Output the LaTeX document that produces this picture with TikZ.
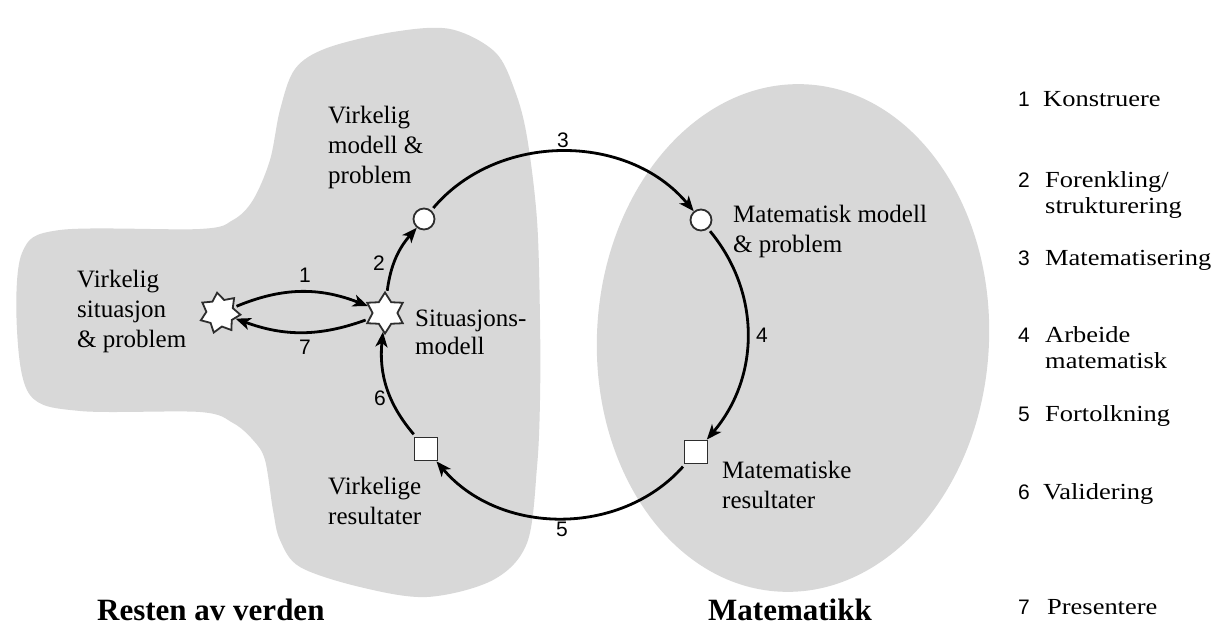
\documentclass[tikz,border=0pt]{standalone}
\usepackage{fontspec}
\setmainfont{Liberation Serif}
\newfontfamily\numfont{Liberation Sans}
\newfontfamily\legfont{Liberation Serif}[FakeStretch=1.15]
\usetikzlibrary{shapes.geometric,arrows.meta}

\definecolor{regiongray}{RGB}{216,216,216}
\definecolor{inkgray}{RGB}{45,45,45}

\begin{document}
\begin{tikzpicture}[x=1pt,y=1pt,
  % multi-line labels are anchored at the baseline of their last line
  lbl/.style={anchor=base west, inner sep=0pt, align=left, font=\fontsize{25}{30}\selectfont},
  title/.style={anchor=base west, inner sep=0pt, font=\fontsize{31}{36}\selectfont\bfseries},
  stepno/.style={inner sep=0pt, font=\numfont\fontsize{21}{25}\selectfont},
  legno/.style={anchor=base west, inner sep=0pt, font=\numfont\fontsize{21}{25}\selectfont},
  legtext/.style={anchor=base west, inner sep=0pt, align=left, font=\legfont\fontsize{23}{26}\selectfont},
  burst/.style={star, draw=inkgray, fill=white, line width=1.8pt, inner sep=0pt, minimum size=41pt},
  dot/.style={circle, draw=inkgray, fill=white, line width=1.8pt, inner sep=0pt, minimum size=21pt},
  box/.style={rectangle, draw=inkgray, fill=white, line width=1.8pt, inner sep=0pt, minimum size=23pt},
  flow/.style={line width=2.8pt, -{Stealth[length=15pt,width=12pt,inset=4pt]}, shorten <=3pt}
]
\useasboundingbox (0,0) rectangle (1216,626);
\fill[white] (0,0) rectangle (1216,626);

% real-world region (cross-shaped blob) and mathematics region (ellipse)
\fill[regiongray] plot[smooth cycle, tension=0.55] coordinates {
  (450,597) (495,574) (515,535) (527,489) (537,406) (540,306) (540,226)
  (537,159) (527,83) (493,46) (427,29) (360,39) (300,59) (280,86)
  (273,116) (265,166) (253,186) (233,203) (200,214) (80,215) (30,231)
  (17,296) (22,373) (60,396) (200,397) (233,406) (253,426) (270,466)
  (280,516) (295,557) (327,578) (393,594)};
\fill[regiongray, rotate around={-3:(793,288)}] (793,288) ellipse [x radius=196, y radius=254];

% states of the modelling cycle
\node[burst, star points=7, star point ratio=1.5, rotate=8] (S1) at (220,313) {};
\node[burst, star points=6, star point ratio=1.65] (S2) at (385,313) {};
\node[dot] (C1) at (424,407) {};
\node[dot] (C2) at (701,406) {};
\node[box] (Q2) at (696,174) {};
\node[box] (Q1) at (426,177) {};

% transitions
\draw[flow] (S1) to[bend left=22] (S2);
\draw[flow] (S2) to[bend left=20] (S1);
\draw[flow] (S2) to[bend left=17] (C1);
\draw[flow] (C1) to[bend left=50] (C2);
\draw[flow] (C2) to[bend left=40] (Q2);
\draw[flow] (Q2) to[bend left=49] (Q1);
\draw[flow] (Q1) to[bend left=23] (S2);

% step numbers
\node[stepno] (n1) at (305,351) {1};
\node[stepno] (n7) at (305,279) {7};
\node[stepno] (n2) at (379,363) {2};
\node[stepno] (n3) at (563,486) {3};
\node[stepno] (n4) at (762,291) {4};
\node[stepno] (n5) at (562,97) {5};
\node[stepno] (n6) at (380,228) {6};

% state labels
\node[lbl] (tvsp) at (77,278) {Virkelig\\situasjon\\\& problem};
\node[lbl] (tvmp) at (328,442) {Virkelig\\modell \&\\problem};
\node[lbl, font=\fontsize{25}{28}\selectfont] (tsm) at (415,271) {Situasjons-\\modell};
\node[lbl] (tmmp) at (733,373) {Matematisk modell\\\& problem};
\node[lbl] (tmr) at (722,117) {Matematiske\\resultater};
\node[lbl] (tvr) at (328,101) {Virkelige\\resultater};

% region titles
\node[title] (rest) at (97,5) {Resten av verden};
\node[title] (matte) at (708,5) {Matematikk};

% legend
\node[legno] (l1) at (1018,519) {1};
\node[legtext] (k1) at (1043,519) {Konstruere};
\node[legno] (l2) at (1018,438) {2};
\node[legtext] (k2) at (1045,412) {Forenkling/\\strukturering};
\node[legno] (l3) at (1018,360) {3};
\node[legtext] (k3) at (1045,360) {Matematisering};
\node[legno] (l4) at (1018,283) {4};
\node[legtext] (k4) at (1045,257) {Arbeide\\matematisk};
\node[legno] (l5) at (1018,204) {5};
\node[legtext] (k5) at (1045,204) {Fortolkning};
\node[legno] (l6) at (1018,126) {6};
\node[legtext] (k6) at (1043,126) {Validering};
\node[legno] (l7) at (1018,11) {7};
\node[legtext] (k7) at (1047,11) {Presentere};
\end{tikzpicture}
\end{document}
